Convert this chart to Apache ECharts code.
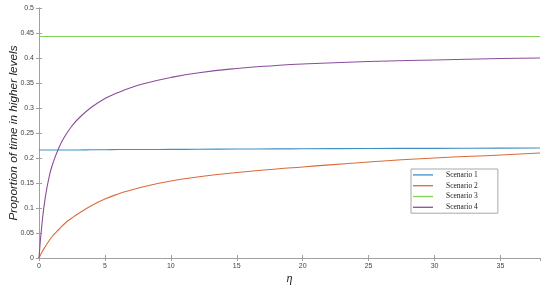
<!DOCTYPE html>
<html lang="en">
<head>
    <meta charset="UTF-8">
    <title>Proportion of time in higher levels</title>
    <style>
        html, body { margin: 0; padding: 0; background: #fff; }
        #main { width: 550px; height: 289px; }
    </style>
</head>
<body>
    <div id="main"></div>
    <script src="https://cdn.jsdelivr.net/npm/echarts@6/dist/echarts.min.js"></script>
    <script>
        var eta = [0, 0.25, 0.5, 0.75, 1, 1.5, 2, 2.5, 3, 4, 5, 6, 7, 8, 10, 12, 15, 18, 20, 25, 30, 35, 38];
        var scenario1 = [0.216, 0.216, 0.216, 0.216, 0.216, 0.216, 0.216, 0.216, 0.216, 0.2165, 0.2165, 0.217, 0.217, 0.217, 0.2172, 0.2175, 0.218, 0.2182, 0.2185, 0.219, 0.2193, 0.2197, 0.22];
        var scenario2 = [0, 0.013, 0.024, 0.034, 0.043, 0.057, 0.07, 0.08, 0.089, 0.105, 0.118, 0.128, 0.136, 0.143, 0.154, 0.162, 0.171, 0.178, 0.182, 0.192, 0.2, 0.206, 0.21];
        var scenario3 = [0.443, 0.443, 0.443, 0.443, 0.443, 0.443, 0.443, 0.443, 0.443, 0.443, 0.443, 0.443, 0.443, 0.443, 0.443, 0.443, 0.443, 0.443, 0.443, 0.443, 0.443, 0.443, 0.443];
        var scenario4 = [0, 0.075, 0.125, 0.16, 0.185, 0.22, 0.245, 0.264, 0.279, 0.302, 0.319, 0.331, 0.341, 0.349, 0.361, 0.37, 0.379, 0.385, 0.388, 0.393, 0.396, 0.399, 0.4];
        var names = ['Scenario 1', 'Scenario 2', 'Scenario 3', 'Scenario 4'];
        var colors = ['#3F8FC6', '#DB6A3C', '#82D256', '#8C4C9C'];

        function pairs(ys) {
            return eta.map(function (x, i) { return [x, ys[i]]; });
        }

        var chart = echarts.init(document.getElementById('main'));
        var axisGray = '#a0a0a0';
        var labelStyle = { fontSize: 7, color: '#444', fontFamily: 'Liberation Sans' };

        var option = {
            animation: false,
            color: colors,
            grid: { left: 39, right: 10, top: 8, bottom: 31, outerBoundsMode: 'none' },
            legend: {
                orient: 'vertical',
                left: 411,
                top: 169,
                icon: 'rect',
                itemWidth: 20,
                itemHeight: 1.3,
                itemGap: 0,
                padding: [0.5, 20, 0.5, 2],
                borderColor: '#a8a8a8',
                borderWidth: 1,
                backgroundColor: '#fff',
                textStyle: { fontFamily: 'Liberation Serif', fontSize: 7.5, lineHeight: 10.8, color: '#222', padding: [0, 0, 0, 8] },
                data: names
            },
            xAxis: [
                {
                    type: 'value', min: 0, max: 38, interval: 5,
                    name: 'η', nameLocation: 'middle', nameGap: 15, nameMoveOverlap: false,
                    nameTextStyle: { fontFamily: 'Liberation Serif', fontStyle: 'italic', fontSize: 12, color: '#222' },
                    axisLine: { lineStyle: { color: axisGray } },
                    axisTick: { inside: true, length: 3, lineStyle: { color: axisGray } },
                    axisLabel: Object.assign({ margin: 5, showMaxLabel: false }, labelStyle),
                    splitLine: { show: false }
                },
                {
                    type: 'value', min: 0, max: 38, interval: 5, position: 'top',
                    axisLine: { lineStyle: { color: axisGray } },
                    axisTick: { inside: true, length: 3, lineStyle: { color: axisGray } },
                    axisLabel: { show: false },
                    splitLine: { show: false }
                }
            ],
            yAxis: [
                {
                    type: 'value', min: 0, max: 0.5, interval: 0.05,
                    name: 'Proportion of time in higher levels', nameLocation: 'middle', nameGap: 19, nameMoveOverlap: false,
                    nameTextStyle: { fontFamily: 'Liberation Sans', fontStyle: 'italic', fontSize: 11.8, color: '#222' },
                    axisLine: { show: true, lineStyle: { color: axisGray } },
                    axisTick: { show: true, inside: true, length: 3, lineStyle: { color: axisGray } },
                    axisLabel: Object.assign({ margin: 5 }, labelStyle),
                    splitLine: { show: false }
                },
                {
                    type: 'value', min: 0, max: 0.5, interval: 0.05, position: 'right',
                    axisLine: { show: true, lineStyle: { color: axisGray } },
                    axisTick: { show: true, inside: true, length: 3, lineStyle: { color: axisGray } },
                    axisLabel: { show: false },
                    splitLine: { show: false }
                }
            ],
            series: [scenario1, scenario2, scenario3, scenario4].map(function (ys, i) {
                return {
                    name: names[i],
                    type: 'line',
                    symbol: 'none',
                    smooth: 0.5,
                    lineStyle: { width: 1.1, color: colors[i] },
                    data: pairs(ys)
                };
            })
        };
        chart.setOption(option);
    </script>
</body>
</html>
